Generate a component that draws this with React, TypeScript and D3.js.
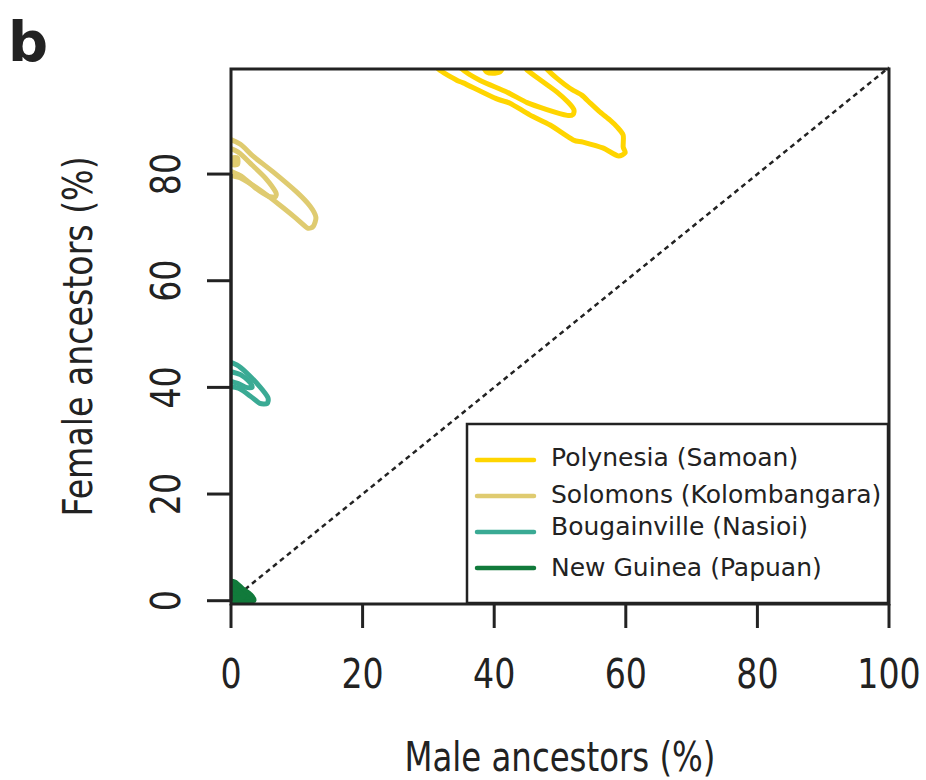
import * as d3 from 'd3';

// population names and colours (legend order)
const populations = [
  'Polynesia (Samoan)',
  'Solomons (Kolombangara)',
  'Bougainville (Nasioi)',
  'New Guinea (Papuan)',
];
const colors = ['#ffd500', '#dfcb70', '#3aaa94', '#117a3b'];

const xTicks = [0, 20, 40, 60, 80, 100];
const yTicks = [0, 20, 40, 60, 80];

// density contours: [male %, female %]
const polynesiaOuter: [number, number][] = [
  [31.0, 101.5], [31.5, 99.7], [34.3, 97.6], [35.3, 97.1], [40.4, 94.1], [42.4, 93.3],
  [45.4, 91.1], [48.5, 89.2], [52.0, 86.4], [53.5, 86.0], [56.5, 84.9], [58.8, 83.4],
  [59.9, 84.0], [59.6, 85.1], [59.6, 87.3], [58.7, 88.8], [57.6, 90.1], [56.1, 91.6],
  [54.6, 93.3], [53.3, 94.8], [51.5, 96.1], [49.5, 98.0], [48.0, 99.7], [47.0, 101.5],
];
const polynesiaInner: [number, number][] = [
  [34.5, 101.4], [35.1, 99.7], [37.8, 97.6], [41.9, 95.4], [45.0, 93.4], [48.0, 92.1],
  [51.1, 91.0], [52.0, 91.2], [52.1, 92.1], [51.2, 93.5], [49.5, 95.4], [47.4, 97.3],
  [45.0, 99.5], [43.6, 101.4],
];
const polynesiaCore: [number, number][] = [
  [38.4, 100.4], [41.2, 100.4], [41.0, 99.3], [40.1, 98.9], [38.9, 99.1],
];
const solomonsOuter: [number, number][] = [
  [-0.9, 86.4], [1.4, 85.6], [3.3, 83.4], [6.4, 80.4], [10.0, 76.6], [12.0, 74.0],
  [12.9, 71.9], [12.5, 70.2], [11.6, 69.9], [9.9, 71.7], [7.4, 74.2], [4.4, 77.0],
  [1.4, 79.3], [-0.9, 80.4],
];
const solomonsInner: [number, number][] = [
  [-0.9, 84.9], [1.1, 84.1], [3.2, 81.7], [5.2, 79.3], [6.8, 76.6], [6.7, 75.7],
  [5.6, 75.9], [3.7, 77.4], [1.7, 79.5], [-0.9, 81.3],
];
const solomonsCore: [number, number][] = [
  [0.2, 83.0], [1.0, 83.0], [1.0, 81.8], [0.2, 81.8],
];
const bougainvilleOuter: [number, number][] = [
  [-0.9, 44.8], [0.9, 44.2], [2.4, 42.7], [4.4, 40.1], [5.6, 38.1], [5.5, 37.0],
  [4.4, 37.0], [2.9, 38.4], [1.4, 39.7], [-0.9, 40.8],
];
const bougainvilleInner: [number, number][] = [
  [-0.9, 43.1], [1.4, 42.4], [2.9, 40.9], [3.2, 40.0], [2.3, 40.0], [1.1, 40.7],
  [-0.9, 41.6],
];
const newGuineaOuter: [number, number][] = [
  [-0.9, 3.5], [0.6, 3.5], [1.8, 2.2], [3.0, 1.1], [3.5, 0.1], [2.9, -0.2],
  [1.4, -0.2], [-0.9, -0.1],
];
const newGuineaInner: [number, number][] = [
  [-0.9, 2.4], [0.8, 2.0], [2.0, 0.9], [1.1, 0.5], [-0.9, 0.9],
];

const contours = [
  [polynesiaOuter, polynesiaInner, polynesiaCore],
  [solomonsOuter, solomonsInner, solomonsCore],
  [bougainvilleOuter, bougainvilleInner],
  [newGuineaOuter, newGuineaInner],
];
// small closed blobs drawn solid
const solid = [polynesiaCore, solomonsCore, newGuineaOuter];

export default function App() {
  const width = 926;
  const height = 780;
  const plot = { left: 231, right: 889, top: 69, bottom: 604 };

  const x = d3.scaleLinear().domain([0, 100]).range([plot.left, plot.right]);
  const y = d3.scaleLinear().domain([0, 100]).range([600.7, 67.4]);

  const line = d3
    .line<[number, number]>()
    .x((d) => x(d[0]))
    .y((d) => y(d[1]))
    .curve(d3.curveCardinalClosed.tension(0.3));

  const diag = d3
    .line<number>()
    .x((d) => x(d))
    .y((d) => y(d));

  const ink = '#222';
  const labelFont = 'DejaVu Sans, Verdana, sans-serif';

  return (
    <svg
      width={width}
      height={height}
      style={{ position: 'absolute', left: 0, top: 0, background: '#fff' }}
    >
      <defs>
        <clipPath id="plotClip">
          <rect
            x={plot.left}
            y={plot.top}
            width={plot.right - plot.left}
            height={plot.bottom - plot.top}
          />
        </clipPath>
      </defs>

      <text x={8} y={61} fontFamily={labelFont} fontWeight="bold" fontSize={56} fill={ink}>
        b
      </text>

      {/* diagonal */}
      <path
        d={diag([0, 100]) || ''}
        fill="none"
        stroke={ink}
        strokeWidth={2.5}
        strokeDasharray="5,4"
      />

      {/* contours */}
      <g clipPath="url(#plotClip)">
        {contours.map((set, i) =>
          set.map((pts, j) => (
            <path
              key={`${i}-${j}`}
              d={line(pts) || ''}
              fill={solid.includes(pts) ? colors[i] : 'none'}
              stroke={colors[i]}
              strokeWidth={5}
              strokeLinejoin="round"
            />
          ))
        )}
      </g>

      {/* legend */}
      <g>
        <rect x={467} y={424} width={421} height={179} fill="#fff" stroke={ink} strokeWidth={2.5} />
        {populations.map((name, i) => (
          <g key={name}>
            <line
              x1={477}
              x2={534}
              y1={460 + i * 36}
              y2={460 + i * 36}
              stroke={colors[i]}
              strokeWidth={4.5}
              strokeLinecap="round"
            />
            <text
              x={551}
              y={[466, 503, 535, 576][i]}
              fontFamily={labelFont}
              fontSize={25}
              fill={ink}
            >
              {name}
            </text>
          </g>
        ))}
      </g>

      {/* box */}
      <rect
        x={plot.left}
        y={plot.top}
        width={plot.right - plot.left}
        height={plot.bottom - plot.top}
        fill="none"
        stroke={ink}
        strokeWidth={3}
      />

      {/* x axis */}
      <g>
        {xTicks.map((t) => (
          <g key={t}>
            <line x1={x(t)} x2={x(t)} y1={plot.bottom} y2={plot.bottom + 24} stroke={ink} strokeWidth={3} />
            <g transform={`translate(${x(t)},688) scale(0.81,1)`}>
              <text textAnchor="middle" fontFamily={labelFont} fontSize={41} fill={ink}>
                {t}
              </text>
            </g>
          </g>
        ))}
        <g transform={`translate(${(plot.left + plot.right) / 2},771) scale(0.81,1)`}>
          <text textAnchor="middle" fontFamily={labelFont} fontSize={40} fill={ink}>
            Male ancestors (%)
          </text>
        </g>
      </g>

      {/* y axis */}
      <g>
        <line x1={plot.left} x2={plot.left} y1={y(0)} y2={y(80)} stroke={ink} strokeWidth={3} />
        {yTicks.map((t) => (
          <g key={t}>
            <line x1={plot.left - 24} x2={plot.left} y1={y(t)} y2={y(t)} stroke={ink} strokeWidth={3} />
            <g transform={`translate(180,${y(t)}) rotate(-90) scale(0.81,1)`}>
              <text textAnchor="middle" fontFamily={labelFont} fontSize={41} fill={ink}>
                {t}
              </text>
            </g>
          </g>
        ))}
        <g transform={`translate(92,${(plot.top + plot.bottom) / 2}) rotate(-90) scale(0.81,1)`}>
          <text textAnchor="middle" fontFamily={labelFont} fontSize={41} fill={ink}>
            Female ancestors (%)
          </text>
        </g>
      </g>
    </svg>
  );
}
